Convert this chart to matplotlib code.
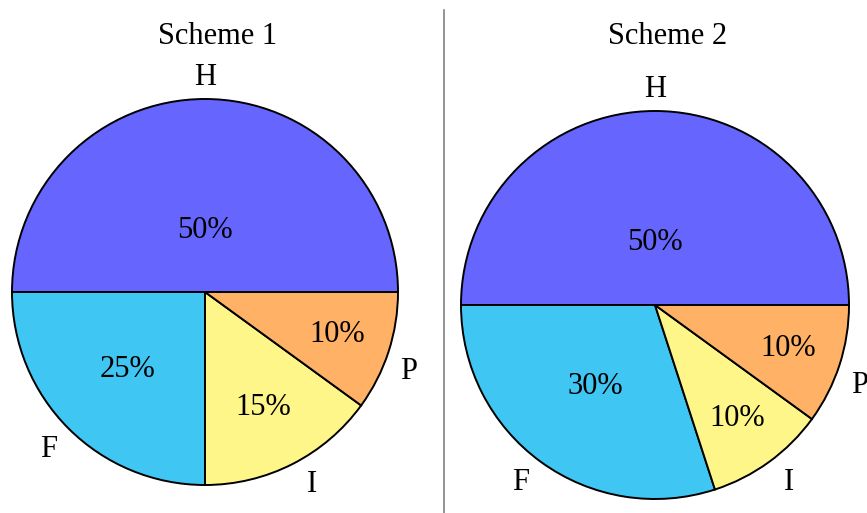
import matplotlib
import numpy as np
import matplotlib.pyplot as plt

matplotlib.use('Agg')

# slice data, same order as drawn (counter-clockwise from 3 o'clock)
names = ['H', 'F', 'I', 'P']
scheme1 = [50, 25, 15, 10]
scheme2 = [50, 30, 10, 10]
titles = ['Scheme 1', 'Scheme 2']

colors = ['#6666ff', '#40c6f3', '#fff68a', '#ffb166']

W, H = 867, 513
plt.rcParams['font.family'] = ['Liberation Serif', 'DejaVu Serif']
FS = 22

fig = plt.figure(figsize=(W / 100, H / 100), dpi=100)


def label_pos(ang):
    # outside label: point just off the rim, then nudged by quadrant
    c, s = np.cos(ang), np.sin(ang)
    sx = 0 if abs(c) < 1e-6 else np.sign(c)
    sy = 0 if abs(s) < 1e-6 else np.sign(s)
    d = 1.008
    return d * c + 0.098 * sx, d * s + 0.101 * sy


def draw_pie(cx, cy, r, vals, title, tx):
    # axes sized so one data unit == r pixels
    lim = 1.3
    ax = fig.add_axes([(cx - lim * r) / W, (cy - lim * r) / H,
                       2 * lim * r / W, 2 * lim * r / H])
    wedges, _ = ax.pie(vals, colors=colors, startangle=0, counterclock=True,
                       radius=1.0, frame=True,
                       wedgeprops=dict(edgecolor='black', linewidth=1.4))
    ax.set_xlim(-lim, lim)
    ax.set_ylim(-lim, lim)
    ax.set_aspect('equal')
    ax.axis('off')
    for w, v, n in zip(wedges, vals, names):
        mid = np.deg2rad((w.theta1 + w.theta2) / 2)
        d = 0.82 - 0.01 * v
        ax.text(d * np.cos(mid), d * np.sin(mid), f'{v}%', ha='center',
                va='center', fontsize=FS)
        lx, ly = label_pos(mid)
        ax.text(lx, ly, n, ha='center', va='center', fontsize=FS)
    fig.text(tx / W, 1 - 36 / H, title, ha='center', va='center', fontsize=FS)


draw_pie(205, H - 292, 193, scheme1, titles[0], 218)
draw_pie(655, H - 305, 194, scheme2, titles[1], 668)

# separator between the two charts
fig.add_artist(plt.Line2D([443.5 / W, 443.5 / W], [0, 1 - 10 / H],
                          color='#777777', linewidth=1.1))

plt.savefig('out.png', dpi=100)
